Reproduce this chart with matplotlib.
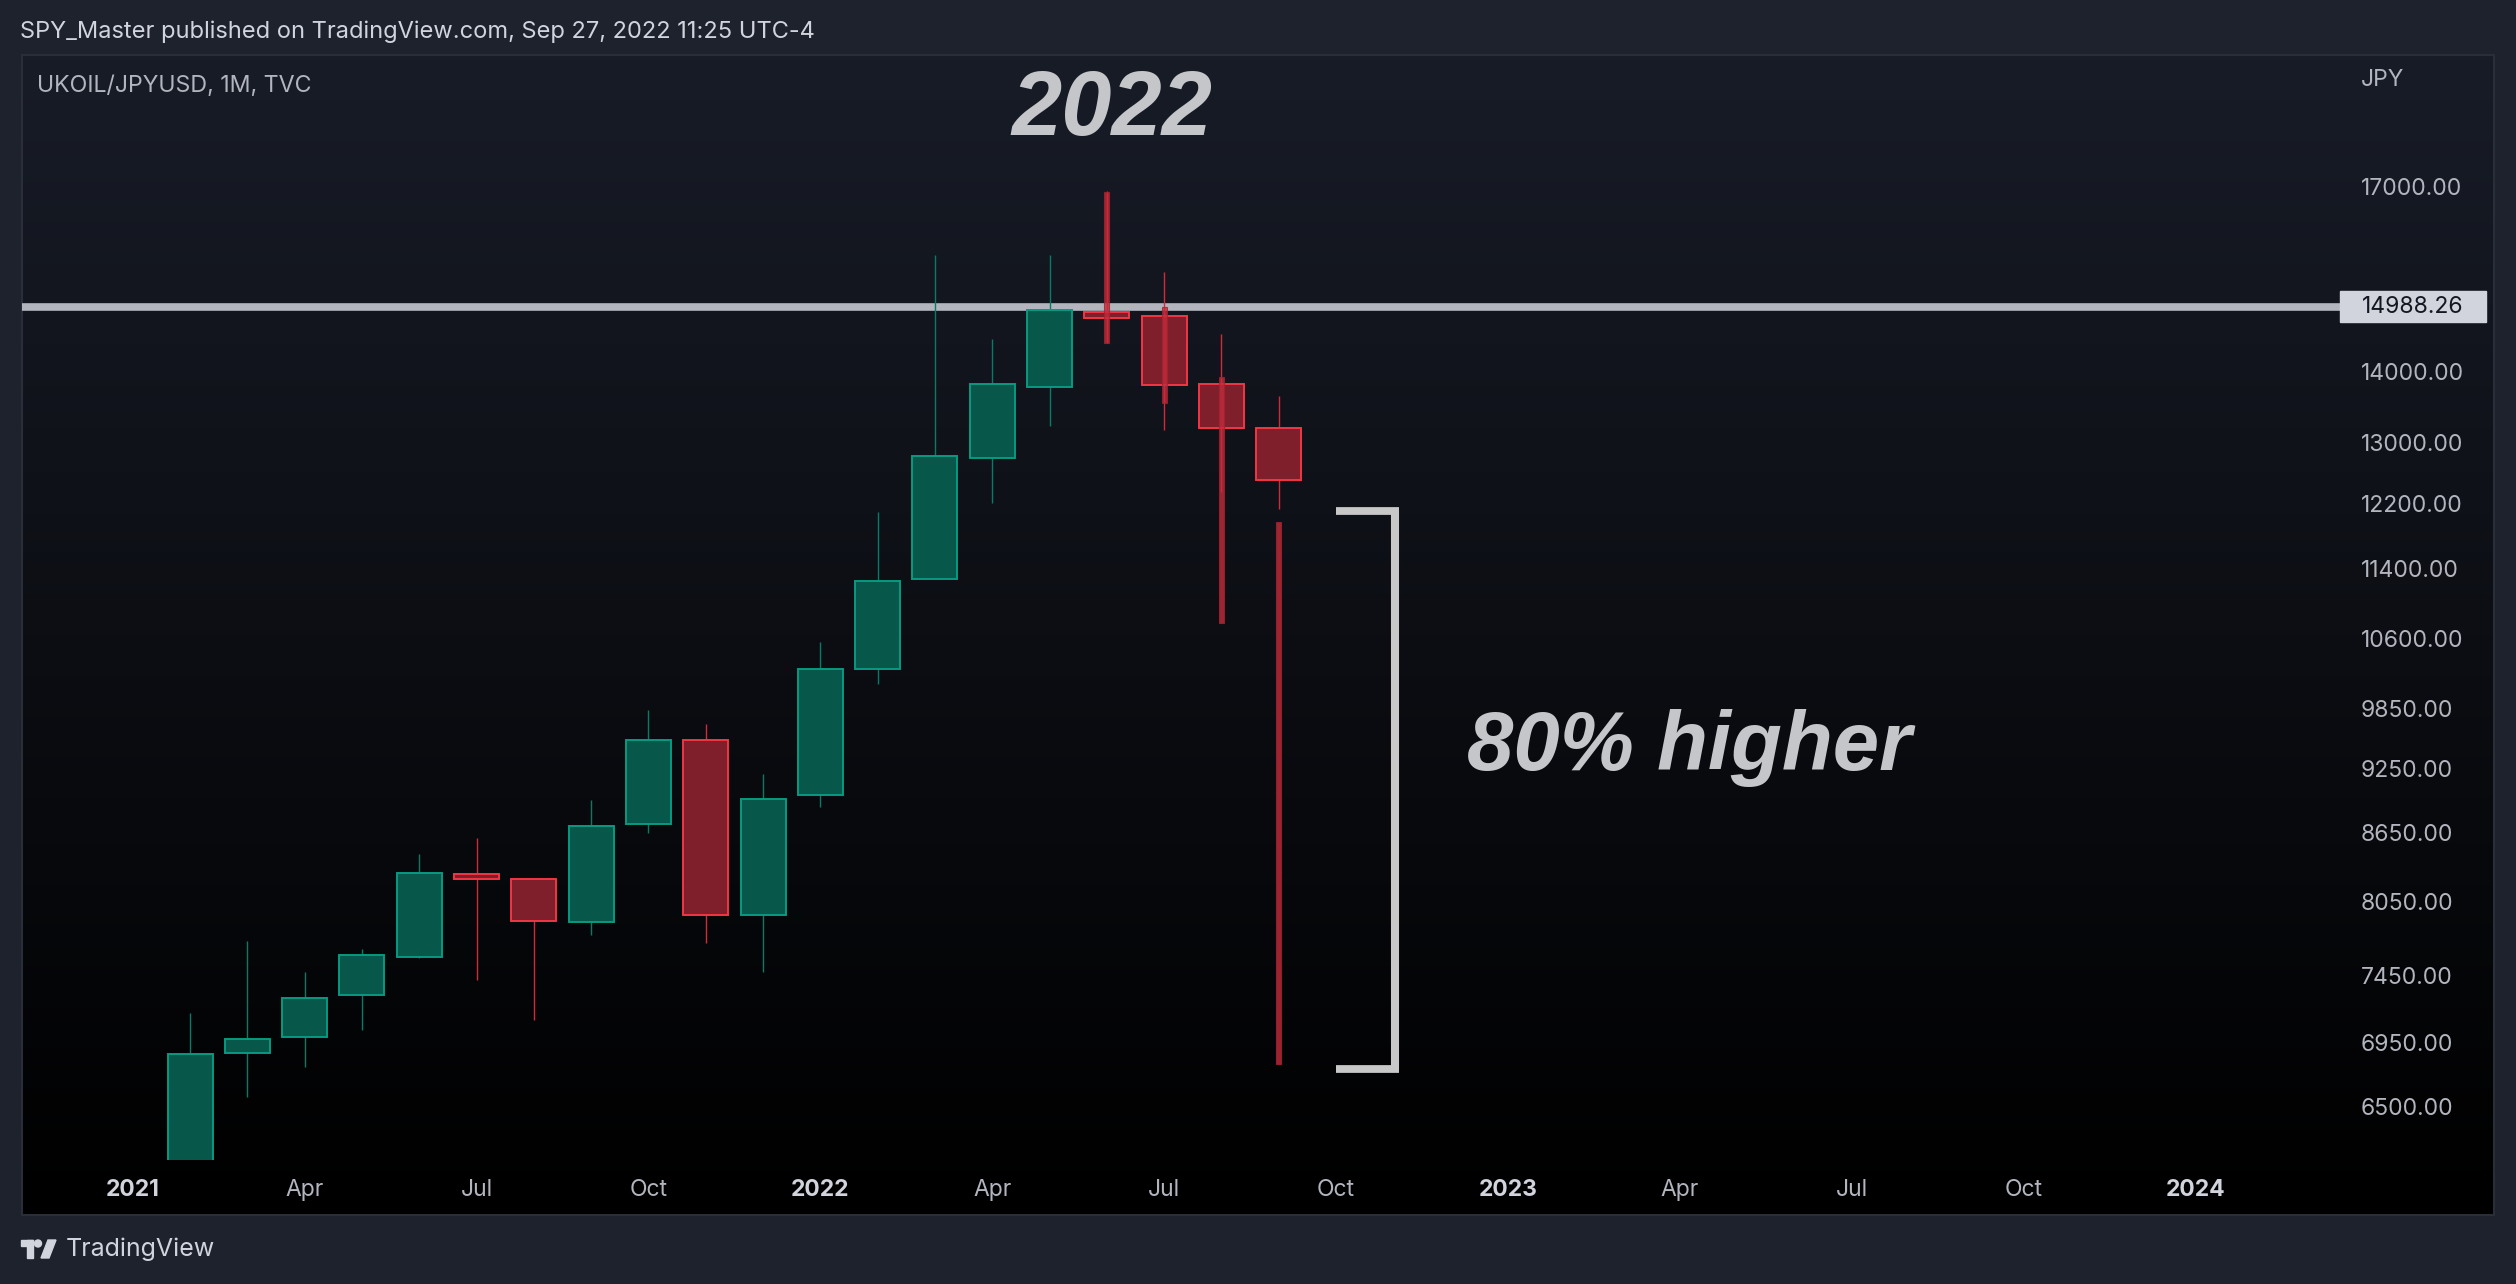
import numpy as np
import matplotlib
matplotlib.use('Agg')
import matplotlib.pyplot as plt
from matplotlib.colors import LinearSegmentedColormap
from matplotlib.patches import Rectangle, Circle, Polygon
from matplotlib.ticker import FixedLocator, NullLocator, FuncFormatter
from matplotlib.transforms import blended_transform_factory

# monthly candles, month index counted from Jan 2021 = 0
months = list(range(1, 21))  # Feb 2021 .. Sep 2022
opens  = [6100, 6868, 6985, 7299, 7596, 8284, 8241, 7879, 8730, 9528,
          7937, 8996, 10263, 11275, 12795, 13780, 14902, 14840, 13823, 13204]
highs  = [7164, 7723, 7478, 7660, 8459, 8602, 8245, 8949, 9833, 9690,
          9197, 10557, 12092, 15817, 14488, 15817, 16911, 15538, 14564, 13651]
lows   = [6000, 6562, 6771, 7038, 7590, 7416, 7111, 7773, 8646, 7708,
          7478, 8884, 10103, 11270, 12207, 13229, 14428, 13173, 12350, 12131]
closes = [6863, 6972, 7276, 7611, 8292, 8241, 7887, 8709, 9528, 7937,
          8959, 10263, 11250, 12821, 13823, 14934, 14810, 13813, 13203, 12503]

# red bars drawn over the last candles
mark_months = [17, 18, 19, 20]
mark_tops = [16893, 14982, 13925, 11962]
mark_bottoms = [14428, 13548, 10771, 6795]

level = 14988.26
bracket_top = 12100
bracket_bottom = 6760

price_ticks = [17000, 14000, 13000, 12200, 11400, 10600, 9850, 9250,
               8650, 8050, 7450, 6950, 6500]
time_ticks = [0, 3, 6, 9, 12, 15, 18, 21, 24, 27, 30, 33, 36]
time_labels = ['2021', 'Apr', 'Jul', 'Oct', '2022', 'Apr', 'Jul', 'Oct',
               '2023', 'Apr', 'Jul', 'Oct', '2024']

W, H = 2516, 1284
up_edge, up_fill, up_wick = '#089981', '#08574b', '#087a65'
dn_edge, dn_fill, dn_wick = '#f23645', '#801f2c', '#d02b3b'
txt = '#b2b5be'
fonts = ['Inter', 'DejaVu Sans']

fig = plt.figure(figsize=(W / 100, H / 100), dpi=100, facecolor='#1e222d')

def rect(x0, y0, x1, y1):
    return [x0 / W, 1 - y1 / H, (x1 - x0) / W, (y1 - y0) / H]

# panel with vertical gradient
bg = fig.add_axes(rect(22, 55, 2494, 1215))
cmap = LinearSegmentedColormap.from_list('bg', ['#181c27', '#000000'])
bg.imshow(np.linspace(0, 1, 256).reshape(-1, 1), cmap=cmap, aspect='auto',
          extent=[0, 1, 0, 1])
bg.set_xticks([])
bg.set_yticks([])
for s in bg.spines.values():
    s.set_color('#2a2e39')
    s.set_linewidth(1.5)

ax = fig.add_axes(rect(22, 55, 2340, 1160))
ax.patch.set_alpha(0)
for s in ax.spines.values():
    s.set_visible(False)
ax.set_yscale('log')
ax.set_xlim(-1.932, 38.52)
ax.set_ylim(6144, 19494)

ax.axhline(level, color='#b2b5be', lw=5.5, zorder=1)

for m, o, h, l, c in zip(months, opens, highs, lows, closes):
    up = c >= o
    ax.vlines(m, l, h, color=up_wick if up else dn_wick, lw=1.0, zorder=2)
    ax.bar(m, abs(c - o), bottom=min(o, c), width=0.785,
           color=up_fill if up else dn_fill,
           edgecolor=up_edge if up else dn_edge, linewidth=1.4, zorder=3)

ax.bar(mark_months, np.array(mark_tops) - np.array(mark_bottoms),
       bottom=mark_bottoms, width=0.09, color='#c22c3b', alpha=0.8,
       edgecolor='#a3212d', linewidth=0.8, zorder=4)

# bracket
ax.vlines(22.03, bracket_bottom, bracket_top, color='#c8c8c8', lw=5.8, zorder=5)
ax.hlines([bracket_top, bracket_bottom], 21.0, 22.1, color='#c8c8c8', lw=5.6,
          zorder=5)

ax.text(17.08, 18367, '2022', fontsize=65, fontweight='bold', style='italic',
        family=['Liberation Sans', 'DejaVu Sans'], color='#c5c6c9',
        ha='center', va='center', zorder=6)
ax.text(23.29, 9449, '80% higher', fontsize=60, fontweight='bold', style='italic',
        family=['Liberation Sans', 'DejaVu Sans'], color='#c5c6c9',
        ha='left', va='center', zorder=6)

# axes ticks
ax.yaxis.tick_right()
ax.yaxis.set_major_locator(FixedLocator(price_ticks))
ax.yaxis.set_minor_locator(NullLocator())
ax.yaxis.set_major_formatter(FuncFormatter(lambda v, p: f'{v:.2f}'))
ax.tick_params(axis='y', length=0, pad=15, labelsize=16.5, labelcolor=txt)
ax.xaxis.set_major_locator(FixedLocator(time_ticks))
ax.set_xticklabels(time_labels)
ax.tick_params(axis='x', length=0, pad=14, labelsize=16.5, labelcolor=txt)
for lab in ax.get_yticklabels():
    lab.set_family(fonts)
for lab, name in zip(ax.get_xticklabels(), time_labels):
    lab.set_family(fonts)
    if name.isdigit():
        lab.set_fontweight('bold')
        lab.set_color('#d1d4dc')

# price label for the horizontal line
tr = blended_transform_factory(ax.transAxes, ax.transData)
ax.add_patch(Rectangle((1.0, level / 1.0168), 0.063, level * 1.0168 - level / 1.0168,
                       transform=tr, clip_on=False, color='#d1d4dc', zorder=6))
ax.text(1.0095, level, f'{level:.2f}', transform=tr, fontsize=16.5, family=fonts,
        color='#131722', va='center', ha='left', zorder=7)

# header / footer texts
fig.text(20 / W, 1 - 32 / H, 'SPY_Master published on TradingView.com, Sep 27, 2022 11:25 UTC-4',
         fontsize=17, family=fonts, color='#d1d4dc', va='center')
fig.text(37 / W, 1 - 86 / H, 'UKOIL/JPYUSD, 1M, TVC', fontsize=16.7, family=fonts,
         color=txt, va='center')
fig.text(2361 / W, 1 - 80 / H, 'JPY', fontsize=16.5, family=fonts, color=txt,
         va='center')
fig.text(66 / W, 1 - 1249 / H, 'TradingView', fontsize=18, family=fonts,
         color='#d1d4dc', va='center')

# small logo
lg = fig.add_axes([0, 0, 1, 1])
lg.set_xlim(0, W)
lg.set_ylim(H, 0)
lg.axis('off')
lg.patch.set_alpha(0)
logo = '#d1d4dc'
lg.add_patch(Rectangle((21, 1240), 12, 6, color=logo))
lg.add_patch(Rectangle((27, 1240), 6, 18, color=logo))
lg.add_patch(Circle((38, 1243.5), 3.5, color=logo))
lg.add_patch(Polygon([(41, 1258), (48, 1240), (56, 1240), (49, 1258)], color=logo))

fig.savefig('out.png', dpi=100, facecolor=fig.get_facecolor())
